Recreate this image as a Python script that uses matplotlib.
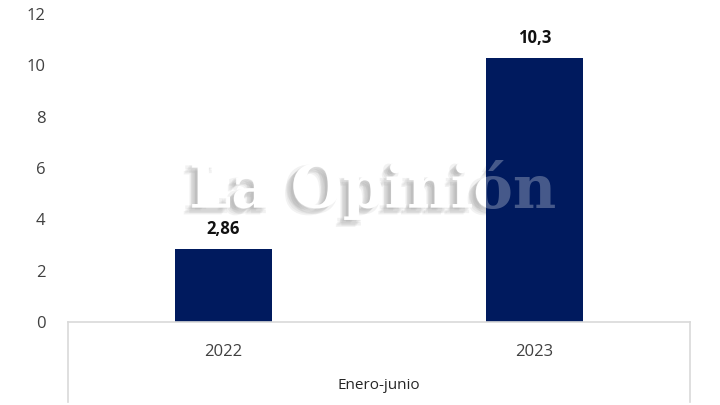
import matplotlib
matplotlib.use("Agg")
import matplotlib.pyplot as plt
import matplotlib.patheffects as pe
from matplotlib.lines import Line2D

# ------------------------------
# datos
# ------------------------------
years = ["2022", "2023"]
values = [2.86, 10.3]
value_labels = ["2,86", "10,3"]
group_label = "Enero-junio"
y_ticks = [0, 2, 4, 6, 8, 10, 12]
watermark = "La Opinión"

plt.rcParams['font.family'] = ['Open Sans', 'DejaVu Sans']

fig = plt.figure(figsize=(7.2, 4.05), dpi=100)
ax = fig.add_axes([0.0944, 0.205, 0.8636, 0.7604])
ax.patch.set_visible(False)
ax.set_zorder(1)

x = list(range(len(years)))
bars = ax.bar(x, values, width=0.31, color='#001a5e', zorder=2)

for bar, lab in zip(bars, value_labels):
    ax.text(bar.get_x() + bar.get_width() / 2, bar.get_height() + 0.42, lab,
            ha='center', va='bottom', fontsize=12, fontweight='bold', color='#111111',
            zorder=5)

ax.set_xlim(-0.5, len(years) - 0.5)
ax.set_ylim(0, 12)
ax.set_yticks(y_ticks)
ax.set_yticklabels([str(t) for t in y_ticks], fontsize=12, color='#404040')
ax.set_xticks(x)
ax.set_xticklabels(years, fontsize=12, color='#404040')
ax.tick_params(axis='both', length=0)
ax.tick_params(axis='y', pad=16)
ax.tick_params(axis='x', pad=16)

for s in ['top', 'right', 'left']:
    ax.spines[s].set_visible(False)
ax.spines['bottom'].set_color('#d9d9d9')
ax.spines['bottom'].set_linewidth(1.2)

# separadores del eje de categorias (dos niveles)
for xx in [-0.5, len(years) - 0.5]:
    ln = Line2D([xx, xx], [0, -0.26], transform=ax.get_xaxis_transform(),
                color='#d9d9d9', linewidth=1.2, clip_on=False)
    ax.add_line(ln)

ax.text(0.5, -0.205, group_label, transform=ax.transAxes, ha='center', va='center',
        fontsize=11, color='#262626')

# marca de agua: sombra difusa debajo de las barras, capa blanca translucida encima
wm_kw = dict(ha='center', va='center', fontsize=43, fontweight='bold',
             family='DejaVu Serif')
shadows = [pe.SimplePatchShadow(offset=(dx, dy), shadow_rgbFace='#9a9a9a', alpha=0.12)
           for dx, dy in [(-2, -1), (-3, -2), (-4, -3), (-5, -4), (-6, -5), (-2, -4), (-5, -1)]]
fig.text(0.518, 0.532, watermark, color='white', zorder=0,
         path_effects=shadows + [pe.Normal()], **wm_kw)
fig.text(0.518, 0.532, watermark, color='white', alpha=0.28, zorder=4, **wm_kw)

plt.savefig("out.png", dpi=100)
plt.close()
